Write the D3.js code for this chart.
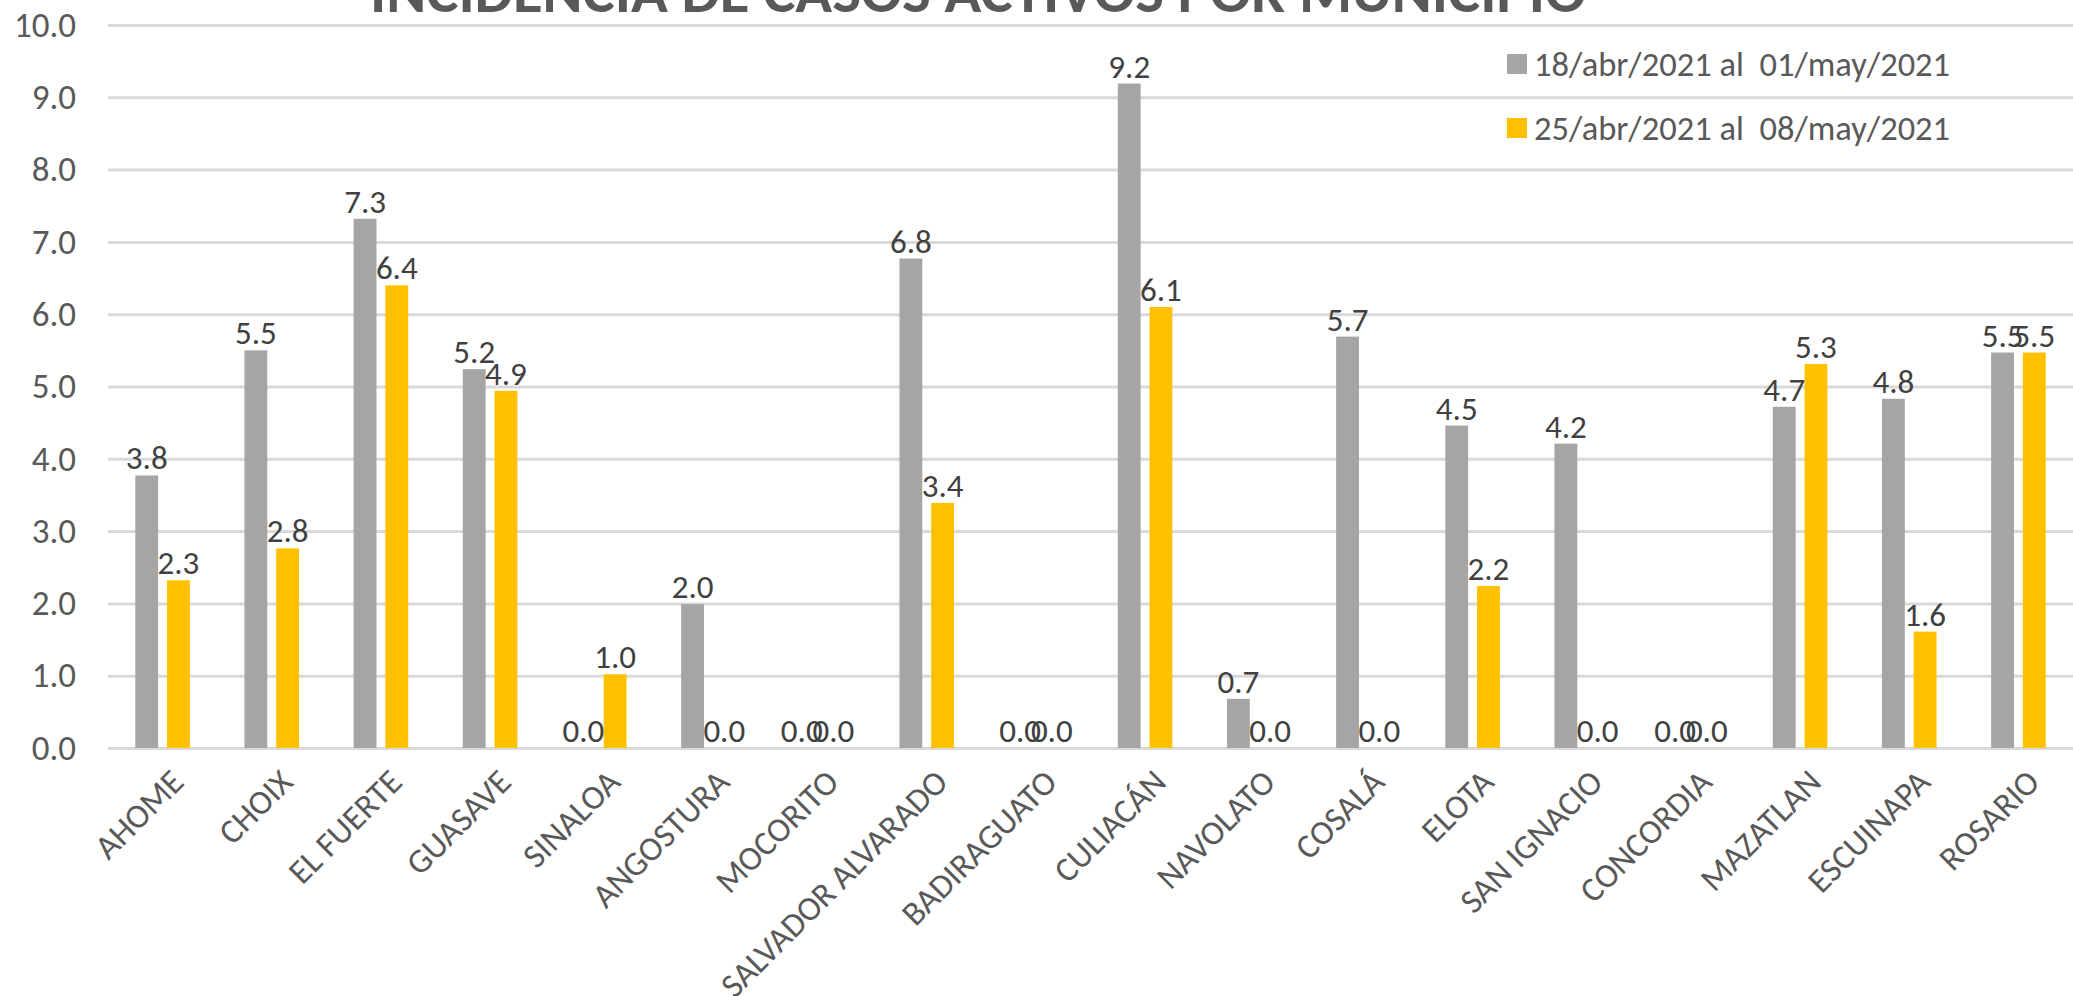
<!DOCTYPE html>
<html>
<head>
<meta charset="utf-8">
<script src="https://cdn.jsdelivr.net/npm/d3@7"></script>
<style>
  html, body { margin: 0; padding: 0; background: #fff; overflow: hidden; }
  svg { display: block; font-family: Calibri, Carlito, Lato, sans-serif; }
</style>
</head>
<body>
<div id="chart"></div>
<script>
// DATA
const municipios = ['AHOME', 'CHOIX', 'EL FUERTE', 'GUASAVE', 'SINALOA', 'ANGOSTURA', 'MOCORITO',
    'SALVADOR ALVARADO', 'BADIRAGUATO', 'CULIACÁN', 'NAVOLATO', 'COSALÁ', 'ELOTA', 'SAN IGNACIO',
    'CONCORDIA', 'MAZATLAN', 'ESCUINAPA', 'ROSARIO'];
const serieNames = ['18/abr/2021 al  01/may/2021', '25/abr/2021 al  08/may/2021'];
const periodo1 = [3.77, 5.50, 7.32, 5.24, 0.0, 1.99, 0.0, 6.77, 0.0, 9.19, 0.68, 5.69, 4.46, 4.21, 0.0, 4.72, 4.83, 5.47];
const periodo2 = [2.32, 2.76, 6.40, 4.94, 1.02, 0.0, 0.0, 3.39, 0.0, 6.10, 0.0, 0.0, 2.24, 0.0, 0.0, 5.31, 1.61, 5.47];
const yTicks = [0, 1, 2, 3, 4, 5, 6, 7, 8, 9, 10];
const title = 'INCIDENCIA DE CASOS ACTIVOS POR MUNICIPIO';

const colors = ['#A5A5A5', '#FFC000'];
const FONT = 'Calibri, Carlito, Lato, sans-serif';

function draw() {
    const width = 2073, height = 996;
    const margin = { top: 25, right: 0, bottom: 248, left: 108 };

    const svg = d3.select('#chart').append('svg')
        .attr('width', width)
        .attr('height', height)
        .attr('viewBox', `0 0 ${width} ${height}`);

    const rows = municipios.map((m, i) => ({ m, vals: [periodo1[i], periodo2[i]] }));

    const x0 = d3.scaleBand()
        .domain(municipios)
        .range([margin.left, width - margin.right])
        .paddingInner(0.5)
        .paddingOuter(0.25);

    const x1 = d3.scaleBand()
        .domain([0, 1])
        .range([0, x0.bandwidth()])
        .paddingInner(0.28);

    const y = d3.scaleLinear()
        .domain([0, 10])
        .range([height - margin.bottom, margin.top]);

    // GRID
    svg.append('g')
        .attr('transform', `translate(${margin.left},0)`)
        .call(d3.axisLeft(y).tickValues(yTicks).tickSize(-(width - margin.left - margin.right)).tickFormat(''))
        .call(g => g.select('.domain').remove())
        .call(g => g.selectAll('line').attr('stroke', '#D9D9D9').attr('stroke-width', 3));

    // Y AXIS LABELS
    svg.append('g')
        .attr('transform', `translate(76,0)`)
        .call(d3.axisLeft(y).tickValues(yTicks).tickSize(0).tickPadding(0).tickFormat(d3.format('.1f')))
        .call(g => g.select('.domain').remove())
        .call(g => g.selectAll('text')
            .attr('fill', '#595959')
            .style('font-size', '35px')
            .style('font-family', FONT));

    // X AXIS LABELS
    svg.append('g')
        .attr('transform', `translate(0,${height - margin.bottom})`)
        .call(d3.axisBottom(x0).tickSize(0).tickPadding(0))
        .call(g => g.select('.domain').remove())
        .call(g => g.selectAll('text')
            .attr('fill', '#595959')
            .style('font-size', '34px')
            .style('font-family', FONT)
            .attr('text-anchor', 'end')
            .attr('dy', 0)
            .attr('transform', 'translate(23,36) rotate(-45)'));

    // BARS
    const groups = svg.append('g')
        .selectAll('g')
        .data(rows)
        .join('g')
        .attr('transform', d => `translate(${x0(d.m)},0)`);

    groups.selectAll('rect')
        .data(d => d.vals.map((v, k) => ({ v, k })))
        .join('rect')
        .attr('x', d => x1(d.k))
        .attr('y', d => y(d.v))
        .attr('width', x1.bandwidth())
        .attr('height', d => y(0) - y(d.v))
        .attr('fill', d => colors[d.k]);

    // DATA LABELS
    groups.selectAll('text')
        .data(d => d.vals.map((v, k) => ({ v, k })))
        .join('text')
        .attr('x', d => x1(d.k) + x1.bandwidth() / 2)
        .attr('y', d => y(d.v) - 6)
        .attr('text-anchor', 'middle')
        .attr('fill', '#404040')
        .style('font-size', '33px')
        .text(d => d3.format('.1f')(d.v));

    // TITLE
    svg.append('text')
        .attr('x', 978)
        .attr('y', 12)
        .attr('text-anchor', 'middle')
        .attr('fill', '#595959')
        .attr('textLength', 1216)
        .attr('lengthAdjust', 'spacingAndGlyphs')
        .style('font-size', '58px')
        .style('font-weight', 'bold')
        .text(title);

    // LEGEND
    const legend = svg.append('g')
        .selectAll('g')
        .data(serieNames)
        .join('g')
        .attr('transform', (d, i) => `translate(1507,${64 + i * 64})`);

    legend.append('rect')
        .attr('x', 0)
        .attr('y', -10)
        .attr('width', 20)
        .attr('height', 20)
        .attr('fill', (d, i) => colors[i]);

    legend.append('text')
        .attr('x', 27)
        .attr('y', 0)
        .attr('dy', '0.35em')
        .attr('fill', '#595959')
        .style('font-size', '34.5px')
        .style('white-space', 'pre')
        .text(d => d);
}

draw();
</script>
</body>
</html>
